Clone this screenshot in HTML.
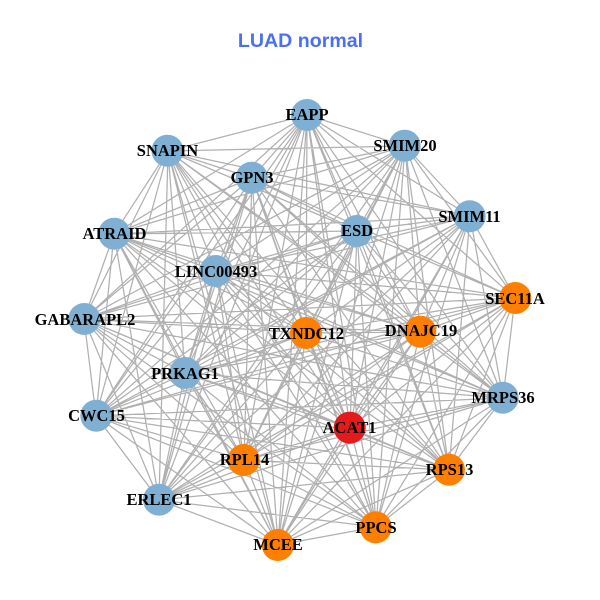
<!DOCTYPE html>
<html><head><meta charset="utf-8"><style>html,body{margin:0;padding:0;background:#fff}svg{display:block}
.l text{font:bold 16.5px "Liberation Serif",serif;text-anchor:middle;fill:#000}</style></head><body>
<svg width="600" height="600" viewBox="0 0 600 600" xmlns="http://www.w3.org/2000/svg">
<rect width="600" height="600" fill="#fff"/>
<text x="300.5" y="47" font-family="Liberation Sans,sans-serif" font-weight="bold" font-size="19.6" text-anchor="middle" fill="#4A70F2">LUAD normal</text>
<path fill="none" stroke="#b0b0b0" stroke-width="1.25" d="
M307 115L405 146M307 115L470 216M307 115L515 298M307 115L503 398M307 115L449 470M307 115L376 527M307 115L278 545M307 115L159 500M307 115L96 416M307 115L84 319M307 115L114 234M307 115L168 151M307 115L252 178M307 115L357 231M307 115L216 271M307 115L185 373M307 115L244 460M307 115L350 428M307 115L306 333M307 115L420 332
M405 146L470 216M405 146L515 298M405 146L503 398M405 146L449 470M405 146L376 527M405 146L278 545M405 146L159 500M405 146L96 416M405 146L84 319M405 146L114 234M405 146L168 151M405 146L252 178M405 146L357 231M405 146L216 271M405 146L185 373M405 146L244 460M405 146L350 428M405 146L306 333M405 146L420 332
M470 216L515 298M470 216L503 398M470 216L449 470M470 216L376 527M470 216L278 545M470 216L159 500M470 216L96 416M470 216L84 319M470 216L114 234M470 216L168 151M470 216L252 178M470 216L357 231M470 216L216 271M470 216L185 373M470 216L244 460M470 216L350 428M470 216L306 333M470 216L420 332
M515 298L503 398M515 298L449 470M515 298L376 527M515 298L278 545M515 298L159 500M515 298L96 416M515 298L84 319M515 298L114 234M515 298L168 151M515 298L252 178M515 298L357 231M515 298L216 271M515 298L185 373M515 298L244 460M515 298L350 428M515 298L306 333M515 298L420 332
M503 398L449 470M503 398L376 527M503 398L278 545M503 398L159 500M503 398L96 416M503 398L84 319M503 398L114 234M503 398L168 151M503 398L252 178M503 398L357 231M503 398L216 271M503 398L185 373M503 398L244 460M503 398L350 428M503 398L306 333M503 398L420 332
M449 470L376 527M449 470L278 545M449 470L159 500M449 470L96 416M449 470L84 319M449 470L114 234M449 470L168 151M449 470L252 178M449 470L357 231M449 470L216 271M449 470L185 373M449 470L244 460M449 470L350 428M449 470L306 333M449 470L420 332
M376 527L278 545M376 527L159 500M376 527L96 416M376 527L84 319M376 527L114 234M376 527L168 151M376 527L252 178M376 527L357 231M376 527L216 271M376 527L185 373M376 527L244 460M376 527L350 428M376 527L306 333M376 527L420 332
M278 545L159 500M278 545L96 416M278 545L84 319M278 545L114 234M278 545L168 151M278 545L252 178M278 545L357 231M278 545L216 271M278 545L185 373M278 545L244 460M278 545L350 428M278 545L306 333M278 545L420 332
M159 500L96 416M159 500L84 319M159 500L114 234M159 500L168 151M159 500L252 178M159 500L357 231M159 500L216 271M159 500L185 373M159 500L244 460M159 500L350 428M159 500L306 333M159 500L420 332
M96 416L84 319M96 416L114 234M96 416L168 151M96 416L252 178M96 416L357 231M96 416L216 271M96 416L185 373M96 416L244 460M96 416L350 428M96 416L306 333M96 416L420 332
M84 319L114 234M84 319L168 151M84 319L252 178M84 319L357 231M84 319L216 271M84 319L185 373M84 319L244 460M84 319L350 428M84 319L306 333M84 319L420 332
M114 234L168 151M114 234L252 178M114 234L357 231M114 234L216 271M114 234L185 373M114 234L244 460M114 234L350 428M114 234L306 333M114 234L420 332
M168 151L252 178M168 151L357 231M168 151L216 271M168 151L185 373M168 151L244 460M168 151L350 428M168 151L306 333M168 151L420 332
M252 178L357 231M252 178L216 271M252 178L185 373M252 178L244 460M252 178L350 428M252 178L306 333M252 178L420 332
M357 231L216 271M357 231L185 373M357 231L244 460M357 231L350 428M357 231L306 333M357 231L420 332
M216 271L185 373M216 271L244 460M216 271L350 428M216 271L306 333M216 271L420 332
M185 373L244 460M185 373L350 428M185 373L306 333M185 373L420 332
M244 460L350 428M244 460L306 333M244 460L420 332
M350 428L306 333M350 428L420 332
M306 333L420 332"/>
<g fill="#7FB0D3">
<circle cx="307" cy="115" r="16"/><circle cx="404.7" cy="145.7" r="16"/><circle cx="469.7" cy="216.3" r="16"/><circle cx="502.7" cy="397.7" r="16"/><circle cx="159" cy="499.7" r="16"/><circle cx="96.3" cy="415.7" r="16"/><circle cx="84.3" cy="319" r="16"/><circle cx="114.3" cy="233.7" r="16"/><circle cx="167.5" cy="150.7" r="16"/><circle cx="251.7" cy="177.7" r="16"/><circle cx="356.7" cy="231" r="16"/><circle cx="215.7" cy="271" r="16"/><circle cx="185.3" cy="373" r="16"/>
</g>
<g fill="#FF7F00">
<circle cx="515.3" cy="298" r="16"/><circle cx="449" cy="469.7" r="16"/><circle cx="375.7" cy="527.3" r="16"/><circle cx="277.8" cy="545" r="16"/><circle cx="243.7" cy="460" r="16"/><circle cx="306" cy="333" r="16"/><circle cx="420.3" cy="331.7" r="16"/>
</g>
<circle cx="349.7" cy="427.7" r="16" fill="#E41A1C"/>
<g class="l">
<text x="307" y="120">EAPP</text>
<text x="405" y="151">SMIM20</text>
<text x="469.5" y="222">SMIM11</text>
<text x="515" y="304">SEC11A</text>
<text x="503" y="403">MRPS36</text>
<text x="449.5" y="475">RPS13</text>
<text x="376" y="533">PPCS</text>
<text x="278" y="550">MCEE</text>
<text x="159" y="505">ERLEC1</text>
<text x="96.5" y="421">CWC15</text>
<text x="85" y="325">GABARAPL2</text>
<text x="114.5" y="239">ATRAID</text>
<text x="167.5" y="156">SNAPIN</text>
<text x="252" y="183">GPN3</text>
<text x="357" y="236">ESD</text>
<text x="216" y="277">LINC00493</text>
<text x="185" y="379">PRKAG1</text>
<text x="244.5" y="465">RPL14</text>
<text x="349.5" y="433">ACAT1</text>
<text x="306.5" y="339">TXNDC12</text>
<text x="421" y="336">DNAJC19</text>
</g>
</svg>
</body></html>
